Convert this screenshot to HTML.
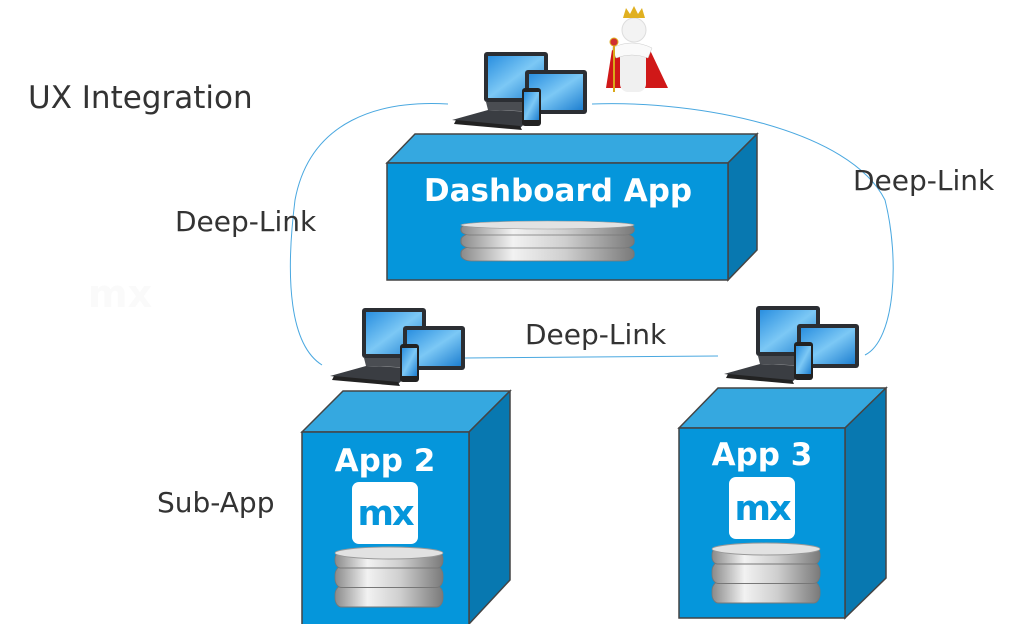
<!DOCTYPE html>
<html><head><style>
body{margin:0;background:#fff;width:1031px;height:624px;overflow:hidden}
text{font-family:"DejaVu Sans","Liberation Sans",sans-serif}
</style></head><body>
<svg width="1031" height="624" viewBox="0 0 1031 624" xmlns="http://www.w3.org/2000/svg">
<defs>
<linearGradient id="disk" x1="0" x2="1">
<stop offset="0" stop-color="#8a8a8a"/><stop offset="0.3" stop-color="#f2f2f2"/><stop offset="0.6" stop-color="#cfcfcf"/><stop offset="1" stop-color="#7a7a7a"/>
</linearGradient>
<linearGradient id="scr" x1="0" y1="0" x2="1" y2="1">
<stop offset="0" stop-color="#2a8fe0"/><stop offset="0.5" stop-color="#7cc8f5"/><stop offset="1" stop-color="#1e7fd0"/>
</linearGradient>
<g id="dev">
<path d="M2 70 L38 60 L88 62 L70 78 Z" fill="#3a3d42"/>
<path d="M6 70 L70 76 L72 80 L4 74 Z" fill="#222"/>
<rect x="34" y="2" width="64" height="50" rx="3" fill="#2b2e33"/>
<rect x="38" y="6" width="56" height="42" fill="url(#scr)"/>
<path d="M36 52 L96 52 L98 62 L38 60 Z" fill="#4a4d52"/>
<rect x="75" y="20" width="62" height="44" rx="3" fill="#2b2e33"/>
<rect x="79" y="24" width="54" height="36" fill="url(#scr)"/>
<rect x="72" y="38" width="19" height="38" rx="3" fill="#222"/>
<rect x="74" y="42" width="15" height="28" fill="url(#scr)"/>
</g>
<g id="stack">
<rect x="0" y="26" width="100" height="14" rx="6" fill="url(#disk)" stroke="#777" stroke-width="0.7"/>
<rect x="0" y="13" width="100" height="14" rx="6" fill="url(#disk)" stroke="#777" stroke-width="0.7"/>
<rect x="0" y="3" width="100" height="11" rx="5" fill="url(#disk)" stroke="#777" stroke-width="0.7"/>
<ellipse cx="50" cy="4" rx="50" ry="4" fill="#e2e2e2" stroke="#999" stroke-width="0.6"/>
</g>
</defs>

<text x="28" y="108" font-size="31" fill="#333">UX Integration</text>

<path d="M448 104 C380 100 310 120 295 200 C285 280 290 345 322 365" fill="none" stroke="#4aa8e0" stroke-width="1"/>
<path d="M592 104 C700 100 850 130 885 200 C900 260 895 340 865 355" fill="none" stroke="#4aa8e0" stroke-width="1"/>
<path d="M465 358 L718 356" fill="none" stroke="#4aa8e0" stroke-width="1"/>

<text x="175" y="231" font-size="28" fill="#333">Deep-Link</text>
<text x="853" y="190" font-size="28" fill="#333">Deep-Link</text>
<text x="525" y="344" font-size="28" fill="#333">Deep-Link</text>
<text x="157" y="512" font-size="28" fill="#333">Sub-App</text>

<text x="88" y="307" font-size="38" font-weight="bold" fill="#fafafa">mx</text>

<use href="#dev" transform="translate(450,50)"/>
<use href="#dev" transform="translate(328,306)"/>
<use href="#dev" transform="translate(722,304)"/>

<g>
<path d="M612 50 Q630 40 650 50 L668 88 L606 88 Z" fill="#d01818"/>
<rect x="620" y="48" width="26" height="44" rx="8" fill="#f0f0f0"/>
<path d="M612 48 Q632 38 652 48 L648 58 Q632 52 616 58 Z" fill="#fafafa" stroke="#ccc" stroke-width="0.5"/>
<circle cx="634" cy="30" r="12" fill="#f3f3f3" stroke="#ddd"/>
<path d="M623 18 L626 8 L630 14 L634 6 L638 14 L642 8 L645 18 Z" fill="#e0b020"/>
<line x1="614" y1="45" x2="614" y2="92" stroke="#d9a81a" stroke-width="2"/>
<circle cx="614" cy="42" r="4" fill="#d03030" stroke="#e0b020"/>
</g>

<polygon points="387,163 415,134 757,134 728,163" fill="#35a8e0" stroke="#444" stroke-width="1.5"/>
<polygon points="728,163 757,134 757,250 728,280" fill="#0878b0" stroke="#444" stroke-width="1.5"/>
<rect x="387" y="163" width="341" height="117" fill="#0596db" stroke="#444" stroke-width="1.5"/>
<text x="558" y="201" font-size="31" font-weight="bold" fill="#fff" text-anchor="middle">Dashboard App</text>
<g transform="translate(461,221) scale(1.73,1)"><use href="#stack"/></g>

<polygon points="302,432 343,391 510,391 469,432" fill="#35a8e0" stroke="#444" stroke-width="1.5"/>
<polygon points="469,432 510,391 510,580 469,624" fill="#0878b0" stroke="#444" stroke-width="1.5"/>
<rect x="302" y="432" width="167" height="194" fill="#0596db" stroke="#444" stroke-width="1.5"/>
<text x="385" y="471" font-size="31" font-weight="bold" fill="#fff" text-anchor="middle">App 2</text>
<rect x="352" y="482" width="66" height="62" rx="7" fill="#fff"/>
<text x="385" y="525" font-size="35" font-weight="bold" fill="#0596db" text-anchor="middle" letter-spacing="-2">mx</text>
<g transform="translate(335,547) scale(1.08,1.5)"><use href="#stack"/></g>

<polygon points="679,428 718,388 886,388 845,428" fill="#35a8e0" stroke="#444" stroke-width="1.5"/>
<polygon points="845,428 886,388 886,578 845,618" fill="#0878b0" stroke="#444" stroke-width="1.5"/>
<rect x="679" y="428" width="166" height="190" fill="#0596db" stroke="#444" stroke-width="1.5"/>
<text x="762" y="465" font-size="31" font-weight="bold" fill="#fff" text-anchor="middle">App 3</text>
<rect x="729" y="477" width="66" height="62" rx="7" fill="#fff"/>
<text x="762" y="520" font-size="35" font-weight="bold" fill="#0596db" text-anchor="middle" letter-spacing="-2">mx</text>
<g transform="translate(712,543) scale(1.08,1.5)"><use href="#stack"/></g>
</svg>
</body></html>
